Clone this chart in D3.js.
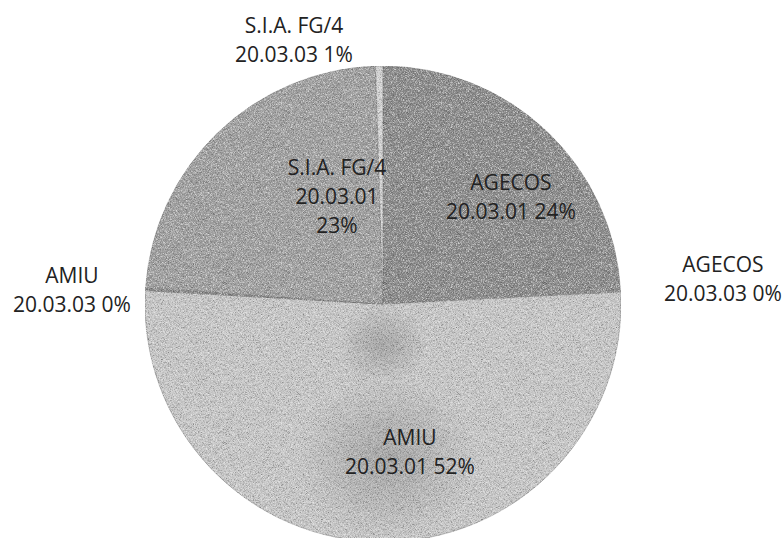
<!DOCTYPE html>
<html>
<head>
<meta charset="utf-8">
<script src="https://cdn.jsdelivr.net/npm/d3@7"></script>
<style>
  body { margin: 0; background: #fff; }
  text { font-family: "Open Sans", sans-serif; font-size: 21px; fill: #222; }
</style>
</head>
<body>
<div id="chart"></div>
<script>
  // data (share of total, %)
  var companies = ["AGECOS", "AGECOS", "AMIU", "AMIU", "S.I.A. FG/4", "S.I.A. FG/4"];
  var codes     = ["20.03.01", "20.03.03", "20.03.01", "20.03.03", "20.03.01", "20.03.03"];
  var shares    = [24.1, 0.1, 51.7, 0.2, 23.4, 0.5];
  var pctLabels = ["24%", "0%", "52%", "0%", "23%", "1%"];

  // look of the scan
  var fills = ["#8c8c8c", "#9a9a9a", "#c6c6c6", "#8a8a8a", "#a0a0a0", "#d2d2d2"];

  // label placement: offset of the first baseline from the pie centre, and line layout
  var labelLayout = [
    {dx: 128,  dy: -114, lines: [0, "code pct"]},
    {dx: 340,  dy: -32,  lines: [0, "code pct"]},
    {dx: 27,   dy: 141,  lines: [0, "code pct"]},
    {dx: -311, dy: -21,  lines: [0, "code pct"]},
    {dx: -46,  dy: -129, lines: [0, "code", "pct"]},
    {dx: -89,  dy: -271, lines: [0, "code pct"]}
  ];

  var width = 784, height = 538;
  var cx = 383, cy = 304, radius = 238, lineGap = 29;

  var svg = d3.select("#chart").append("svg")
      .attr("width", width)
      .attr("height", height);

  // grainy scan texture
  var defs = svg.append("defs");
  var f = defs.append("filter").attr("id", "grain")
      .attr("x", 0).attr("y", 0).attr("width", 1).attr("height", 1);
  f.append("feTurbulence").attr("type", "fractalNoise")
      .attr("baseFrequency", 1.6).attr("numOctaves", 1).attr("seed", 4).attr("result", "n");
  f.append("feColorMatrix").attr("in", "n").attr("type", "matrix")
      .attr("values", "0.6 0.6 0 0 -0.1  0.6 0.6 0 0 -0.1  0.6 0.6 0 0 -0.1  0 0 0 0 1")
      .attr("result", "g");
  f.append("feBlend").attr("in", "SourceGraphic").attr("in2", "g").attr("mode", "overlay").attr("result", "b");
  f.append("feComposite").attr("in", "b").attr("in2", "SourceGraphic").attr("operator", "in");

  var shade = defs.append("radialGradient").attr("id", "blob");
  shade.append("stop").attr("offset", "0%").attr("stop-color", "#000").attr("stop-opacity", 0.16);
  shade.append("stop").attr("offset", "100%").attr("stop-color", "#000").attr("stop-opacity", 0);

  defs.append("clipPath").attr("id", "pieClip")
    .append("circle").attr("cx", cx).attr("cy", cy).attr("r", radius);

  var data = shares.map(function(v, i) {
    return {company: companies[i], code: codes[i], value: v, pct: pctLabels[i], i: i};
  });

  var pie = d3.pie().sort(null).value(function(d) { return d.value; });
  var arc = d3.arc().innerRadius(0).outerRadius(radius);
  var arcs = pie(data);

  var g = svg.append("g").attr("transform", "translate(" + cx + "," + cy + ")");

  var slices = g.append("g").attr("filter", "url(#grain)");
  slices.selectAll("path")
    .data(arcs)
    .enter().append("path")
      .attr("d", arc)
      .attr("fill", function(d) { return fills[d.data.i]; })
      .attr("stroke", "#7a7a7a")
      .attr("stroke-width", 0.6);

  // darker patches from the scan
  var blobs = svg.append("g").attr("clip-path", "url(#pieClip)");
  blobs.append("ellipse").attr("cx", cx + 5).attr("cy", cy + 155)
      .attr("rx", 90).attr("ry", 80).attr("fill", "url(#blob)");
  blobs.append("ellipse").attr("cx", cx).attr("cy", cy + 40)
      .attr("rx", 45).attr("ry", 40).attr("fill", "url(#blob)");

  // labels
  var labels = svg.append("g");
  arcs.forEach(function(d) {
    var lay = labelLayout[d.data.i];
    var t = labels.append("text")
        .attr("text-anchor", "middle")
        .attr("x", cx + lay.dx)
        .attr("y", cy + lay.dy);
    lay.lines.forEach(function(l, k) {
      var s = l === 0 ? d.data.company
            : l.replace("code", d.data.code).replace("pct", d.data.pct);
      t.append("tspan")
        .attr("x", cx + lay.dx)
        .attr("y", cy + lay.dy + k * lineGap)
        .text(s);
    });
  });
</script>
</body>
</html>
